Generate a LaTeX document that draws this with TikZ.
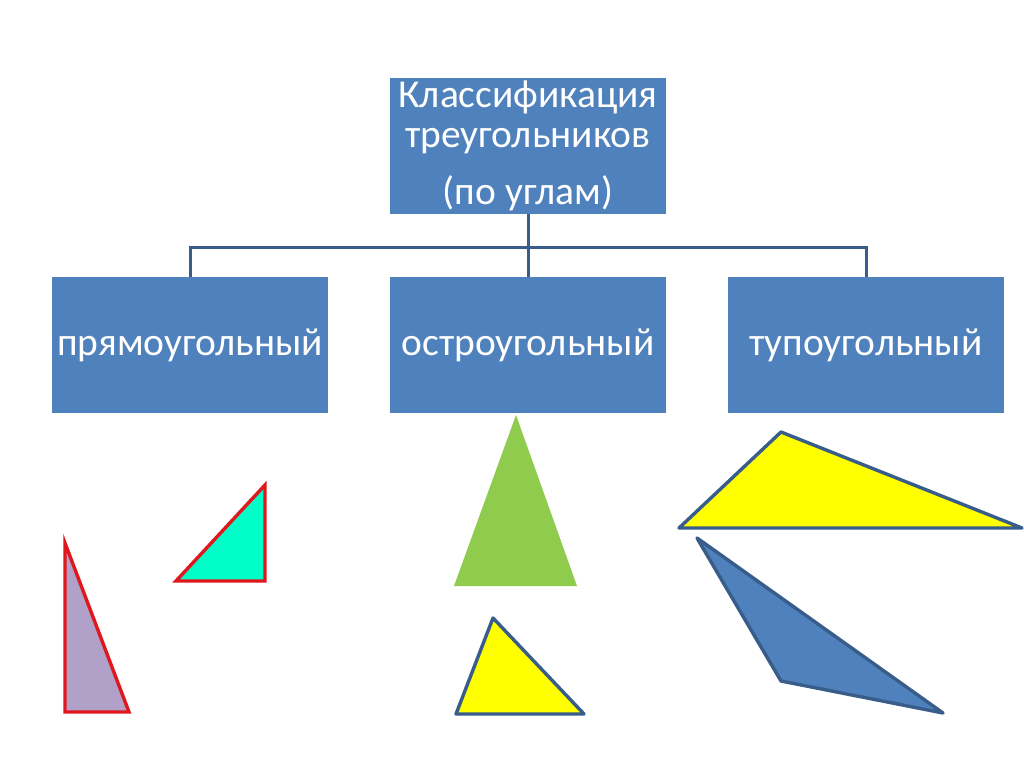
\documentclass[tikz,border=0pt]{standalone}
\usepackage{fontspec}
\setmainfont{Carlito}
\definecolor{boxblue}{HTML}{4F81BD}
\definecolor{linedark}{HTML}{385D8A}
\definecolor{redline}{HTML}{E0181E}
\definecolor{lav}{HTML}{B1A0C7}
\definecolor{aqua}{HTML}{00FFC8}
\definecolor{lgreen}{HTML}{8FCC4E}
\definecolor{yel}{HTML}{FFFF00}
\tikzset{
  catbox/.style={fill=boxblue, draw=none, minimum width=276pt, minimum height=136pt,
    inner sep=0pt, text=white, align=center, font=\fontsize{39.5}{40}\selectfont},
  bus/.style={draw=linedark, line width=3pt},
  redtri/.style={draw=redline, line width=3.4pt, line join=miter},
  darktri/.style={draw=linedark, line width=3.4pt, line join=round},
}
\begin{document}
\begin{tikzpicture}[x=1pt,y=-1pt]
\useasboundingbox (0,0) rectangle (1024,767);
\fill[white] (0,0) rectangle (1024,767);
% boxes
\node[catbox, minimum height=136pt] (top) at (528,146) {\rule{0pt}{6pt}Классификация\\треугольников\\[17pt](по углам)};
\node[catbox] (left) at (190,345) {прямоугольный};
\node[catbox] (mid) at (528,345) {остроугольный};
\node[catbox] (right) at (866,345) {тупоугольный};
% connectors
\coordinate (busy) at (0,247);
\draw[bus] (top.south) -- (mid.north);
\draw[bus] (left.north) -- (left.north |- busy) -- (right.north |- busy) -- (right.north);
% right triangles
\filldraw[redtri, fill=lav] (65,543) -- (65,712) -- (129,712) -- cycle;
\filldraw[redtri, fill=aqua] (265,485) -- (265,581) -- (176,581) -- cycle;
% acute triangles
\fill[lgreen] (516,415) -- (577,586) -- (454,586) -- cycle;
\filldraw[darktri, fill=yel] (493,618) -- (584,714) -- (456,714) -- cycle;
% obtuse triangles
\filldraw[darktri, fill=yel] (781,432) -- (1022,528) -- (679,528) -- cycle;
\filldraw[darktri, fill=boxblue] (697,538) -- (781,681) -- (943,713) -- cycle;
\end{tikzpicture}
\end{document}
